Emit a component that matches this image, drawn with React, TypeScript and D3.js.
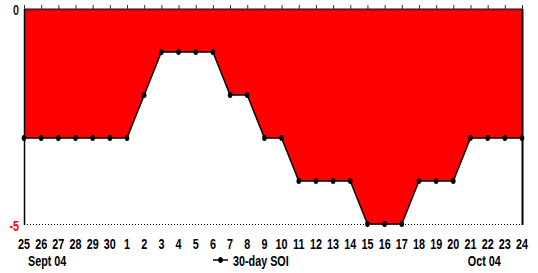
import React, { useEffect, useRef } from 'react';
import * as d3 from 'd3';

// days shown along the bottom (Sept 25 .. Oct 24)
const days = ['25', '26', '27', '28', '29', '30', '1', '2', '3', '4', '5', '6', '7', '8', '9', '10', '11', '12', '13', '14', '15', '16', '17', '18', '19', '20', '21', '22', '23', '24'];
const soi = [-3, -3, -3, -3, -3, -3, -3, -2, -1, -1, -1, -1, -2, -2, -3, -3, -4, -4, -4, -4, -5, -5, -5, -4, -4, -4, -3, -3, -3, -3];
const yTicks = [0, -5];
const monthLabels = [{ idx: 1.35, text: 'Sept 04' }, { idx: 26.8, text: 'Oct 04' }];

const W = 538;
const H = 273;
const FONT = '"Liberation Sans", Arial, sans-serif';
const SQUEEZE = 0.72; // narrow bold look of the original

export default function App() {
  const svgRef = useRef<SVGSVGElement>(null);

  useEffect(() => {
    if (!svgRef.current) return;
    const svg = d3.select(svgRef.current);
    svg.selectAll('*').remove();

    const left = 24, right = 522, top = 9, bottom = 224;
    const x = d3.scaleLinear().domain([0, days.length - 1]).range([left, right]);
    const y = d3.scaleLinear().domain([-5, 0]).range([bottom, top]);

    const label = (g: d3.Selection<SVGTextElement, any, any, any>) =>
      g.attr('font-family', FONT)
        .attr('font-weight', 'bold')
        .attr('font-size', 15);

    // red fill between top (0) and the series
    const area = d3.area<number>()
      .x((_, i) => x(i))
      .y0(y(0))
      .y1(d => y(d));
    svg.append('path')
      .datum(soi)
      .attr('fill', '#ff0000')
      .attr('d', area);

    // top border with ticks
    svg.append('line')
      .attr('x1', left).attr('x2', right)
      .attr('y1', top - 0.5).attr('y2', top - 0.5)
      .attr('stroke', '#aaa').attr('stroke-width', 1);
    svg.append('line')
      .attr('x1', left).attr('x2', right)
      .attr('y1', top + 0.5).attr('y2', top + 0.5)
      .attr('stroke', '#6a1010').attr('stroke-width', 1.5);
    svg.append('g')
      .selectAll('line')
      .data(days)
      .join('line')
      .attr('x1', (_, i) => x(i) + 0.5)
      .attr('x2', (_, i) => x(i) + 0.5)
      .attr('y1', top - 4)
      .attr('y2', top + 1)
      .attr('stroke', '#333')
      .attr('stroke-width', 1);

    // bottom dotted baseline
    svg.append('line')
      .attr('x1', left).attr('x2', right)
      .attr('y1', bottom + 0.5).attr('y2', bottom + 0.5)
      .attr('stroke', '#000').attr('stroke-width', 1)
      .attr('stroke-dasharray', '1,2');

    // left and right axis lines
    svg.append('line')
      .attr('x1', left + 0.5).attr('x2', left + 0.5)
      .attr('y1', top).attr('y2', bottom + 1)
      .attr('stroke', '#000').attr('stroke-width', 1.5);
    svg.append('line')
      .attr('x1', right + 0.5).attr('x2', right + 0.5)
      .attr('y1', top).attr('y2', bottom + 1)
      .attr('stroke', '#000').attr('stroke-width', 2);

    // series line + markers
    const line = d3.line<number>()
      .x((_, i) => x(i))
      .y(d => y(d));
    svg.append('path')
      .datum(soi)
      .attr('fill', 'none')
      .attr('stroke', '#000')
      .attr('stroke-width', 1.5)
      .attr('d', line);
    svg.append('g')
      .selectAll('ellipse')
      .data(soi)
      .join('ellipse')
      .attr('cx', (_, i) => x(i))
      .attr('cy', d => y(d))
      .attr('rx', 2.3)
      .attr('ry', 3)
      .attr('fill', '#000');

    // y labels
    svg.append('g')
      .selectAll('text')
      .data(yTicks)
      .join('text')
      .attr('transform', d => `translate(${left - 5},${y(d) + (d === 0 ? 6 : 7)}) scale(${SQUEEZE},1)`)
      .attr('text-anchor', 'end')
      .call(label)
      .attr('fill', d => (d === 0 ? '#222' : '#ff0000'))
      .text(d => String(d));

    // x labels
    svg.append('g')
      .selectAll('text')
      .data(days)
      .join('text')
      .attr('transform', (_, i) => `translate(${x(i)},${bottom + 25}) scale(${SQUEEZE},1)`)
      .attr('text-anchor', 'middle')
      .call(label)
      .attr('fill', '#000')
      .text(d => d);

    svg.append('g')
      .selectAll('text')
      .data(monthLabels)
      .join('text')
      .attr('transform', d => `translate(${x(d.idx)},${bottom + 42}) scale(${SQUEEZE},1)`)
      .attr('text-anchor', 'middle')
      .call(label)
      .attr('fill', '#000')
      .text(d => d.text);

    // legend
    const lg = svg.append('g').attr('transform', `translate(213, ${bottom + 36})`);
    lg.append('line').attr('x1', 0).attr('x2', 15).attr('y1', 0).attr('y2', 0)
      .attr('stroke', '#000').attr('stroke-width', 1.5);
    lg.append('ellipse').attr('cx', 7.5).attr('cy', 0).attr('rx', 2.3).attr('ry', 3).attr('fill', '#000');
    lg.append('text')
      .attr('transform', `translate(20,6) scale(${SQUEEZE},1)`)
      .call(label)
      .attr('fill', '#000')
      .text('30-day SOI');
  }, []);

  return (
    <svg
      ref={svgRef}
      width={W}
      height={H}
      style={{ position: 'absolute', left: 0, top: 0, background: '#fff' }}
    />
  );
}
